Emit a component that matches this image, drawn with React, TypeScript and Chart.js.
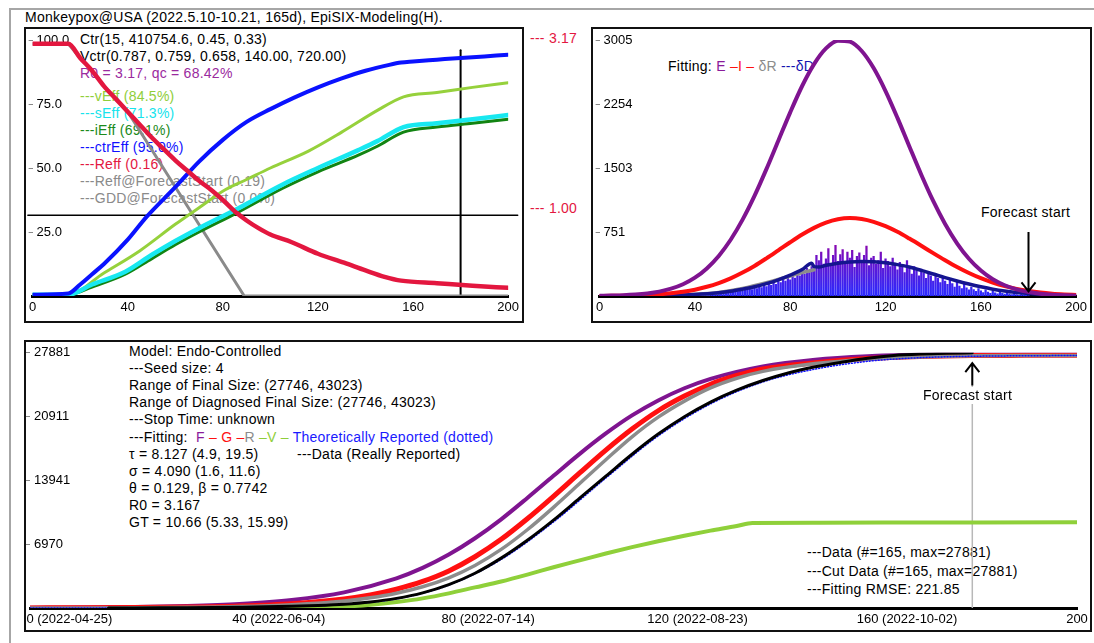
import React, { useEffect, useRef } from 'react';
import { Chart, registerables } from 'chart.js';

Chart.register(...registerables);

const FONT = "'Liberation Sans', Arial, Helvetica, sans-serif";
const forecastDay = 180;
const R0 = 3.17;

// ================= Panel 1 (top-left): effects, % =================
const effTicksY = [25, 50, 75, 100];
const reffDays = [0, 15, 20, 25, 30, 35, 40, 45, 50, 55, 60, 65, 70, 75, 80, 86, 90, 95, 100, 109, 120, 131, 140, 148, 155, 170, 185, 200];
const reffVals = [98.5, 98.5, 93, 88, 82, 77, 72, 67, 62, 57.5, 53, 49, 45, 41.5, 37.5, 32.3, 29.5, 26.5, 24, 21, 16.5, 13, 10, 7.5, 6, 5, 4, 3.2];
const ctrEffDays = [0, 15, 20, 25, 30, 40, 48, 60, 70, 80, 90, 100, 110, 120, 130, 140, 150, 155, 160, 170, 180, 190, 200];
const ctrEffVals = [0.5, 1, 4.5, 8.5, 12.5, 22, 31, 42.5, 52.5, 61, 68, 73, 77.5, 81.5, 85, 88, 90.3, 91.2, 91.6, 92.3, 93, 93.6, 94.2];
const vEffDays = [0, 15, 30, 45, 60, 70, 81, 90, 100, 116, 130, 145, 156, 170, 185, 200];
const vEffVals = [0.5, 0.5, 9, 17.6, 28, 34.5, 41.5, 45.5, 50, 56.6, 64, 72.5, 77.8, 79.5, 81.5, 83.3];
const sEffDays = [0, 15, 25, 39, 50, 60, 70, 86, 105, 120, 137, 145, 156, 170, 185, 200];
const sEffVals = [0.5, 0.5, 4.5, 9.5, 16, 21.5, 26.5, 34, 43.5, 50, 57, 60.5, 66, 67.5, 69, 70.7];
const iEffDays = [0, 15, 25, 39, 50, 60, 70, 86, 105, 120, 137, 145, 156, 170, 185, 200];
const iEffVals = [0.5, 0.5, 3.5, 8.5, 14.5, 20, 25, 32.5, 42, 48.5, 55, 58.5, 64, 66, 67.5, 69];
const reffFsDays = [0, 15, 20, 25, 30, 35, 40, 89, 200];
const reffFsVals = [98.5, 98.5, 93, 88, 82, 77, 72, 0, 0];

// ================= Panel 2 (top-right): daily incidence =================
const incTicksY = [751.25, 1502.5, 2253.75, 3005];
const curveDays = [0, 5, 10, 15, 20, 25, 30, 35, 40, 45, 50, 55, 60, 65, 70, 75, 80, 85, 90, 95, 100, 105, 110, 115, 120, 125, 130, 135, 140, 145, 150, 155, 160, 165, 170, 175, 180, 185, 190, 195, 200];
const eVals = [2, 5, 9, 17, 30, 51, 86, 138, 215, 324, 470, 660, 896, 1175, 1489, 1823, 2156, 2465, 2722, 2906, 2997, 2986, 2876, 2676, 2406, 2091, 1755, 1424, 1116, 846, 619, 437, 299, 197, 126, 78, 46, 27, 15, 8, 4];
const iVals = [1, 2, 4, 7, 12, 20, 32, 50, 74, 108, 152, 207, 275, 353, 442, 536, 631, 721, 800, 862, 901, 915, 904, 871, 820, 753, 674, 590, 503, 419, 340, 270, 209, 158, 116, 84, 59, 40, 27, 18, 11];
const dDays = [0, 10, 20, 30, 40, 50, 55, 60, 65, 70, 75, 80, 85, 89, 90, 92, 95, 100, 105, 110, 115, 120, 125, 130, 135, 140, 145, 150, 155, 160, 165, 170, 175, 180, 190, 200];
const dVals = [0, 1, 3, 8, 18, 38, 55, 80, 108, 145, 190, 245, 310, 385, 345, 340, 360, 385, 400, 405, 402, 390, 368, 340, 300, 258, 215, 176, 140, 108, 80, 58, 42, 30, 15, 7];
const rDays = [0, 10, 20, 30, 40, 50, 60, 70, 80, 85, 90];
const rVals = [0, 1, 3, 9, 20, 42, 88, 155, 235, 275, 308];
const barStartDay = 15;
const barVals = [
  1, 0, 2, 1, 0, 3, 2, 1, 4, 2,
  3, 5, 2, 6, 4, 8, 5, 7, 10, 6,
  12, 9, 15, 11, 18, 14, 20, 16, 24, 19,
  28, 22, 33, 26, 38, 30, 44, 35, 50, 42,
  58, 47, 65, 55, 74, 62, 84, 70, 95, 80,
  108, 90, 122, 102, 138, 115, 155, 128, 172, 140,
  190, 160, 210, 178, 235, 195, 255, 215, 280, 240,
  300, 262, 330, 280, 350, 300, 480, 420, 520, 380,
  440, 560, 360, 480, 600, 410, 490, 550, 380, 520,
  450, 540, 340, 470, 510, 400, 480, 590, 360, 450,
  470, 380, 420, 520, 330, 440, 410, 350, 450, 390,
  310, 400, 360, 280, 420, 330, 260, 350, 300, 240,
  320, 270, 210, 290, 240, 180, 260, 210, 160, 230,
  180, 140, 200, 150, 110, 170, 120, 90, 140, 100,
  75, 110, 80, 60, 90, 65, 45, 75, 50, 35,
  60, 40, 30, 50, 35, 25, 40, 28, 20, 32,
  22, 15, 25, 18, 12, 10,
];

// ================= Panel 3 (bottom): cumulative =================
const cumTicksY = [6970.25, 13940.5, 20910.75, 27881];
const bottomTickDays = [0, 40, 80, 120, 160, 200];
const bottomTickLabels = ['0 (2022-04-25)', '40 (2022-06-04)', '80 (2022-07-14)', '120 (2022-08-23)', '160 (2022-10-02)', '200'];
const fDays = [0, 10, 20, 30, 40, 50, 60, 70, 75, 80, 85, 90, 95, 100, 105, 110, 115, 120, 125, 130, 140, 150, 160, 170, 180, 190, 200];
const fVals = [27, 55, 110, 221, 440, 874, 1708, 3240, 4380, 5836, 7620, 9690, 12020, 14440, 16840, 19070, 21040, 22680, 24010, 25040, 26400, 27130, 27510, 27700, 27800, 27840, 27870];
const gDays = [0, 10, 20, 30, 40, 50, 60, 65, 70, 75, 80, 85, 90, 95, 100, 105, 110, 115, 120, 125, 130, 135, 140, 150, 160, 170, 180, 190, 200];
const gVals = [11, 24, 51, 108, 228, 477, 992, 1420, 2050, 2900, 4050, 5600, 7500, 9750, 12200, 14750, 17250, 19550, 21550, 23150, 24450, 25400, 26120, 26800, 27250, 27480, 27580, 27600, 27610];
const rCumDays = [0, 10, 20, 30, 40, 50, 60, 65, 70, 75, 80, 85, 90, 95, 100, 105, 110, 115, 120, 125, 130, 135, 140, 150, 160, 170, 180, 190, 200];
const rCumVals = [5, 12, 30, 70, 160, 360, 760, 1120, 1620, 2320, 3300, 4650, 6400, 8550, 11000, 13600, 16200, 18700, 20850, 22600, 24050, 25100, 25850, 26700, 27180, 27430, 27560, 27580, 27590];
const vDays = [0, 50, 55, 60, 65, 70, 75, 80, 85, 90, 95, 100, 105, 110, 115, 120, 125, 130, 135, 138, 150, 170, 200];
const vVals = [0, 0, 40, 150, 350, 650, 1050, 1600, 2250, 2900, 3650, 4450, 5200, 5950, 6650, 7300, 7900, 8450, 8950, 9300, 9320, 9340, 9360];
const dataDays = [15, 20, 25, 30, 35, 40, 45, 50, 55, 60, 65, 70, 75, 80, 85, 90, 95, 100, 105, 110, 115, 120, 125, 130, 135, 140, 145, 150, 155, 160, 165, 170, 175, 180];
const dataVals = [4, 10, 20, 35, 55, 85, 125, 190, 280, 420, 660, 1050, 1650, 2550, 3800, 5450, 7400, 9600, 12000, 14400, 16800, 19000, 20900, 22500, 23800, 24850, 25700, 26350, 26850, 27280, 27580, 27740, 27830, 27881];
const theoDays = [0, 20, 40, 50, 60, 70, 80, 90, 100, 110, 120, 130, 140, 150, 160, 170, 180, 190, 200];
const theoVals = [2, 15, 80, 180, 400, 1000, 2500, 5300, 9400, 14200, 18800, 22300, 24700, 26100, 26950, 27350, 27500, 27560, 27580];

// ================= helpers =================
type Pt = { x: number; y: number };
const zip = (xs: number[], ys: number[]): Pt[] => xs.map((x, i) => ({ x, y: ys[i] }));
const tickFont = { family: FONT, size: 13 };

function lineDs(label: string, data: Pt[], color: string, width: number, extra: any = {}) {
  return {
    type: 'line', label, data, borderColor: color, backgroundColor: color,
    borderWidth: width, pointRadius: 0, fill: false, cubicInterpolationMode: 'monotone',
    borderJoinStyle: 'round', borderCapStyle: 'round', ...extra,
  };
}

function xAxis(height: number, showTicks = true) {
  return {
    type: 'linear', min: 0, max: 200, offset: false,
    ticks: { display: showTicks, stepSize: 40, font: tickFont, color: '#000', padding: 4, maxRotation: 0, autoSkip: false },
    grid: { display: false, drawTicks: false },
    border: { display: true, color: '#000', width: 3 },
    afterFit: (s: any) => { s.height = height; },
  };
}

function yAxis(max: number, ticks: number[], fmt: (v: number) => string, width: number) {
  return {
    type: 'linear', min: 0, max,
    afterBuildTicks: (s: any) => { s.ticks = ticks.map((v) => ({ value: v })); },
    ticks: { mirror: true, padding: 4, font: tickFont, color: '#000', callback: (v: any) => fmt(Number(v)) },
    grid: { display: true, drawOnChartArea: false, drawTicks: true, tickLength: 4, color: '#888', lineWidth: 1 },
    border: { display: false },
    afterFit: (s: any) => { s.width = width; },
  };
}

function baseOptions(padRight: number, padTop: number, x: any, y: any) {
  return {
    responsive: false,
    animation: false,
    events: [],
    layout: { padding: { top: padTop, right: padRight, left: 0, bottom: 0 } },
    plugins: { legend: { display: false }, tooltip: { enabled: false } },
    elements: { point: { radius: 0 } },
    scales: { x, y },
  };
}

function arrowPlugin(fromVal: number, toVal: number) {
  return {
    id: 'fcArrow',
    afterDatasetsDraw(chart: any) {
      const { ctx, scales } = chart;
      const px = scales.x.getPixelForValue(forecastDay);
      const y1 = scales.y.getPixelForValue(fromVal);
      const y2 = scales.y.getPixelForValue(toVal);
      const dir = Math.sign(y2 - y1);
      ctx.save();
      ctx.strokeStyle = '#000';
      ctx.lineWidth = 2;
      ctx.beginPath();
      ctx.moveTo(px, y1);
      ctx.lineTo(px, y2);
      ctx.moveTo(px - 7, y2 - dir * 9);
      ctx.lineTo(px, y2);
      ctx.lineTo(px + 7, y2 - dir * 9);
      ctx.stroke();
      ctx.restore();
    },
  };
}

const bottomLabelPlugin = {
  id: 'bottomLabels',
  afterDraw(chart: any) {
    const { ctx, scales, chartArea } = chart;
    ctx.save();
    ctx.font = `13px ${FONT}`;
    ctx.fillStyle = '#000';
    ctx.textBaseline = 'middle';
    ctx.textAlign = 'left';
    bottomTickDays.forEach((d, i) => {
      const px = scales.x.getPixelForValue(d);
      const w = ctx.measureText(String(d)).width;
      ctx.fillText(bottomTickLabels[i], px - w / 2, chartArea.bottom + 11);
    });
    ctx.restore();
  },
};

// ================= configs =================
function topLeftConfig(): any {
  const thr = 100 / R0;
  return {
    type: 'line',
    data: {
      datasets: [
        lineDs('Reff', zip(reffDays, reffVals), '#e3173f', 4.5),
        lineDs('ctrEff', zip(ctrEffDays, ctrEffVals), '#0a12ff', 4),
        lineDs('sEff', zip(sEffDays, sEffVals), '#18e8f0', 4.5),
        lineDs('iEff', zip(iEffDays, iEffVals), '#128412', 3),
        lineDs('vEff', zip(vEffDays, vEffVals), '#96d13c', 3),
        lineDs('Reff@ForecastStart', zip(reffFsDays, reffFsVals), '#8a8a8a', 3, { cubicInterpolationMode: 'default', tension: 0 }),
        lineDs('threshold', [{ x: -2, y: thr }, { x: 204, y: thr }], '#000', 1.5, { clip: false, tension: 0 }),
        lineDs('forecast', [{ x: forecastDay, y: 96 }, { x: forecastDay, y: 0 }], '#000', 2, { tension: 0 }),
      ],
    },
    options: baseOptions(10, 12, xAxis(26), yAxis(100, effTicksY, (v) => v.toFixed(1), 5)),
  };
}

function topRightConfig(): any {
  const bars = barVals.map((v, i) => ({ x: barStartDay + i, y: v }));
  return {
    type: 'line',
    data: {
      datasets: [
        lineDs('E', zip(curveDays, eVals), '#7f1490', 4),
        lineDs('I', zip(curveDays, iVals), '#ff1010', 4),
        lineDs('δD', zip(dDays, dVals), '#15158f', 3.5),
        lineDs('δR', zip(rDays, rVals), '#8c8c8c', 3.5),
        {
          type: 'bar', label: 'data', data: bars,
          barPercentage: 0.95, categoryPercentage: 1,
          backgroundColor: (c: any) => {
            const chart = c.chart;
            if (!chart.chartArea) return '#5a20d0';
            const ys = chart.scales.y;
            const g = chart.ctx.createLinearGradient(0, ys.getPixelForValue(0), 0, ys.getPixelForValue(600));
            g.addColorStop(0, '#2a2aff');
            g.addColorStop(0.55, '#5a18d8');
            g.addColorStop(1, '#8a08b0');
            return g;
          },
        },
      ],
    },
    options: baseOptions(11, 12, xAxis(26), yAxis(3005, incTicksY, (v) => String(Math.round(v)), 6)),
    plugins: [arrowPlugin(750, 55)],
  };
}

function bottomConfig(): any {
  return {
    type: 'line',
    data: {
      datasets: [
        lineDs('Data', zip(dataDays, dataVals), '#000', 3),
        lineDs('Theoretically Reported', zip(theoDays, theoVals), '#1010ff', 1.5, { borderDash: [1, 2] }),
        lineDs('R', zip(rCumDays, rCumVals), '#8c8c8c', 3.5),
        lineDs('G', zip(gDays, gVals), '#ff1010', 5),
        lineDs('F', zip(fDays, fVals), '#7f1490', 4),
        lineDs('V', zip(vDays, vVals), '#8fd03a', 4),
        lineDs('forecast', [{ x: forecastDay, y: 26500 }, { x: forecastDay, y: 0 }], '#b8b8b8', 1.5, { tension: 0 }),
      ],
    },
    options: baseOptions(14, 11, xAxis(23, false), yAxis(27881, cumTicksY, (v) => String(Math.round(v)), 5)),
    plugins: [arrowPlugin(24300, 26750), bottomLabelPlugin],
  };
}

function useChart(build: () => any) {
  const ref = useRef<HTMLCanvasElement>(null);
  useEffect(() => {
    if (!ref.current) return;
    const chart = new Chart(ref.current, build());
    return () => chart.destroy();
  }, []);
  return ref;
}

function Txt(props: { x: number; y: number; color?: string; bg?: string; z?: number; children: any }) {
  return (
    <div
      style={{
        position: 'absolute', left: props.x, top: props.y - 8.5, lineHeight: '17px', fontSize: 14,
        letterSpacing: '0.25px', whiteSpace: 'pre', color: props.color || '#000', fontFamily: FONT,
        background: props.bg, zIndex: props.z,
      }}
    >
      {props.children}
    </div>
  );
}

const box = (l: number, t: number, w: number, h: number): React.CSSProperties => ({
  position: 'absolute', left: l, top: t, width: w, height: h, border: '2px solid #111',
  boxSizing: 'border-box', pointerEvents: 'none', zIndex: 5,
});

export default function App() {
  const tl = useChart(topLeftConfig);
  const tr = useChart(topRightConfig);
  const bt = useChart(bottomConfig);
  const red = '#e3173f';
  return (
    <div style={{ position: 'fixed', left: 0, top: 0, width: 1094, height: 643, background: '#fff', overflow: 'hidden', fontFamily: FONT }}>
      <div style={{ position: 'absolute', left: 9, top: 8, width: 1100, height: 700, border: '2px solid #a6a6a6', boxSizing: 'border-box' }} />
      <Txt x={25} y={17}>Monkeypox@USA (2022.5.10-10.21, 165d), EpiSIX-Modeling(H).</Txt>

      {/* top-left annotations */}
      <Txt x={80} y={39}>Ctr(15, 410754.6, 0.45, 0.33)</Txt>
      <Txt x={80} y={56}>Vctr(0.787, 0.759, 0.658, 140.00, 720.00)</Txt>
      <Txt x={80} y={73} color="#9a2a9e">R0 = 3.17, qc = 68.42%</Txt>
      <Txt x={80} y={96} color="#8fce3a">---vEff (84.5%)</Txt>
      <Txt x={80} y={113} color="#17e3ec">---sEff (71.3%)</Txt>
      <Txt x={80} y={130} color="#1b8a1b">---iEff (69.1%)</Txt>
      <Txt x={80} y={147} color="#1010ff">---ctrEff (95.0%)</Txt>
      <Txt x={80} y={164} color={red}>---Reff (0.16)</Txt>
      <Txt x={80} y={181} color="#8a8a8a">---Reff@ForecastStart (0.19)</Txt>
      <Txt x={80} y={198} color="#8a8a8a">---GDD@ForecastStart (0.0%)</Txt>
      <Txt x={530} y={38} color={red}>--- 3.17</Txt>
      <Txt x={530} y={208} color={red}>--- 1.00</Txt>

      {/* top-right annotations */}
      <Txt x={668} y={66}>
        Fitting: <span style={{ color: '#8a1a9a' }}>E</span>
        <span style={{ color: '#ff1010' }}> –I –</span>
        <span style={{ color: '#8c8c8c' }}> δR</span>
        <span style={{ color: '#1515b0' }}> ---δD</span>
      </Txt>
      <Txt x={981} y={212}>Forecast start</Txt>

      {/* bottom annotations */}
      <Txt x={129} y={351}>Model: Endo-Controlled</Txt>
      <Txt x={129} y={368}>---Seed size: 4</Txt>
      <Txt x={129} y={385}>Range of Final Size: (27746, 43023)</Txt>
      <Txt x={129} y={402}>Range of Diagnosed Final Size: (27746, 43023)</Txt>
      <Txt x={129} y={419}>---Stop Time: unknown</Txt>
      <Txt x={129} y={437}>
        ---Fitting:  <span style={{ color: '#8a1a9a' }}>F</span>
        <span style={{ color: '#ff1010' }}> – G –</span>
        <span style={{ color: '#8c8c8c' }}>R</span>
        <span style={{ color: '#8fce3a' }}> –V –</span>
        <span style={{ color: '#1a1aff' }}> Theoretically Reported (dotted)</span>
      </Txt>
      <Txt x={129} y={454}>τ = 8.127 (4.9, 19.5)</Txt>
      <Txt x={297} y={454}>---Data (Really Reported)</Txt>
      <Txt x={129} y={471}>σ = 4.090 (1.6, 11.6)</Txt>
      <Txt x={129} y={488}>θ = 0.129, β = 0.7742</Txt>
      <Txt x={129} y={505}>R0 = 3.167</Txt>
      <Txt x={129} y={522}>GT = 10.66 (5.33, 15.99)</Txt>
      <Txt x={807} y={552}>---Data (#=165, max=27881)</Txt>
      <Txt x={807} y={571}>---Cut Data (#=165, max=27881)</Txt>
      <Txt x={807} y={589}>---Fitting RMSE: 221.85</Txt>

      <canvas ref={tl} width={498} height={294} style={{ position: 'absolute', left: 25, top: 28, zIndex: 2 }} />
      <canvas ref={tr} width={499} height={294} style={{ position: 'absolute', left: 592, top: 28, zIndex: 2 }} />
      <canvas ref={bt} width={1066} height={290} style={{ position: 'absolute', left: 25, top: 341, zIndex: 2 }} />

      <Txt x={923} y={395} bg="#fff" z={3}>Forecast start</Txt>

      <div style={box(24, 27, 500, 296)} />
      <div style={box(591, 27, 501, 296)} />
      <div style={box(24, 340, 1068, 292)} />
    </div>
  );
}
